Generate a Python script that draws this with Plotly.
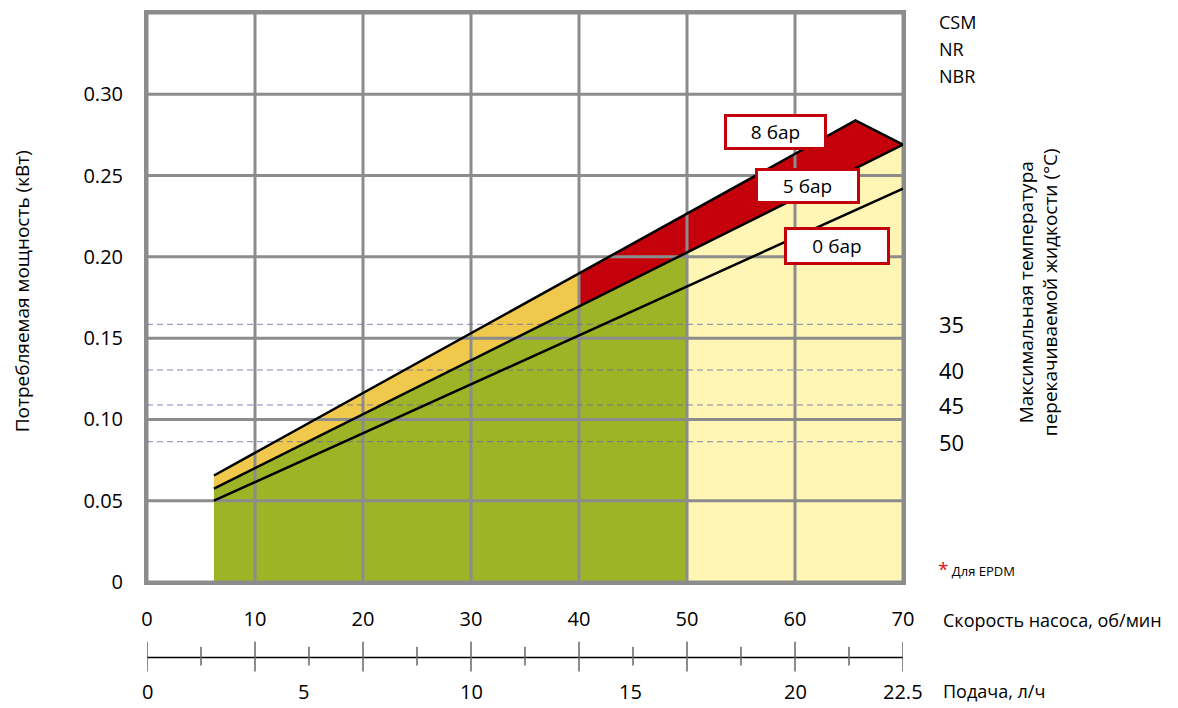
import numpy as np
import plotly.graph_objects as go

# ---------------- data ----------------
speed_ticks = [0, 10, 20, 30, 40, 50, 60, 70]          # pump speed, rpm
power_ticks = [0, 0.05, 0.10, 0.15, 0.20, 0.25, 0.30, 0.35]
power_ticklabels = ["0", "0.05", "0.10", "0.15", "0.20", "0.25", "0.30", ""]

flow_labels = ["0", "5", "10", "15", "20", "22.5"]       # l/h
flow_label_pos = [0, 14.5, 30, 44.8, 60, 70]             # rpm position of flow labels
flow_major_ticks = [0, 10, 20, 30, 40, 50, 60, 70]
flow_minor_ticks = [5, 15, 25, 35, 45, 55, 65]

# pressure curves (rpm -> kW)
x0bar = [6.2, 70]
y0bar = [0.050, 0.242]
x5bar = [6.2, 70]
y5bar = [0.0575, 0.269]
x8bar = [6.2, 65.6, 70]
y8bar = [0.0655, 0.284, 0.269]

# material limits
green_limit = 50       # rpm limit of green zone
orange_limit = 40      # rpm where 8 bar zone changes colour

# max temperature guide lines
temp_labels = ["35", "40", "45", "50"]
temp_power = [0.1585, 0.1304, 0.1089, 0.0863]

materials = ["CSM", "NR", "NBR"]

# ---------------- style ----------------
GREEN = "#9DB427"
ORANGE = "#F0C84B"
RED = "#C4000B"
LYELLOW = "#FFF5B4"
GRID = "#8C8C8C"
FONT = "Open Sans"

fig = go.Figure()

def p5(x):
    return np.interp(x, x5bar, y5bar)

def p8(x):
    return np.interp(x, x8bar, y8bar)

x_start = x5bar[0]
x_end = x5bar[-1]

# green zone
gx = [x_start, x_start, green_limit, green_limit]
gy = [0, p5(x_start), p5(green_limit), 0]
fig.add_trace(go.Scatter(x=gx, y=gy, fill="toself", fillcolor=GREEN, mode="none", hoverinfo="skip"))

# light yellow zone
lx = [green_limit, green_limit, x_end, x_end]
ly = [0, p5(green_limit), p5(x_end), 0]
fig.add_trace(go.Scatter(x=lx, y=ly, fill="toself", fillcolor=LYELLOW, mode="none", hoverinfo="skip"))

# orange band between 5 bar and 8 bar
ox = [x_start, orange_limit, orange_limit, x_start]
oy = [p8(x_start), p8(orange_limit), p5(orange_limit), p5(x_start)]
fig.add_trace(go.Scatter(x=ox, y=oy, fill="toself", fillcolor=ORANGE, mode="none", hoverinfo="skip"))

# red band
top_x = [orange_limit] + [v for v in x8bar if v > orange_limit]
top_y = [p8(v) for v in top_x]
rx = top_x + [x_end, orange_limit]
ry = top_y + [p5(x_end), p5(orange_limit)]
fig.add_trace(go.Scatter(x=rx, y=ry, fill="toself", fillcolor=RED, mode="none", hoverinfo="skip"))

# grid lines as traces (drawn above fills)
vx, vy = [], []
for t in speed_ticks:
    vx += [t, t, None]
    vy += [power_ticks[0], power_ticks[-1], None]
fig.add_trace(go.Scatter(x=vx, y=vy, mode="lines", line=dict(color=GRID, width=3), hoverinfo="skip"))
hx, hy = [], []
for t in power_ticks:
    hx += [speed_ticks[0], speed_ticks[-1], None]
    hy += [t, t, None]
fig.add_trace(go.Scatter(x=hx, y=hy, mode="lines", line=dict(color=GRID, width=3), hoverinfo="skip"))

# dashed temperature lines
for tp in temp_power:
    fig.add_trace(go.Scatter(x=[speed_ticks[0], speed_ticks[-1]], y=[tp, tp], mode="lines",
                             line=dict(color="rgba(100,105,170,0.8)", width=1, dash="6px,4px"),
                             hoverinfo="skip"))

# pressure curves
for xs, ys in [(x0bar, y0bar), (x5bar, y5bar), (x8bar, y8bar)]:
    fig.add_trace(go.Scatter(x=xs, y=ys, mode="lines", line=dict(color="black", width=2.5),
                             hoverinfo="skip"))

# secondary (flow) axis drawn with shapes
AX_Y = -0.1329
shapes = [dict(type="line", xref="x", yref="paper", x0=flow_major_ticks[0], x1=flow_major_ticks[-1],
               y0=AX_Y, y1=AX_Y, line=dict(color="black", width=1.5))]
for t in flow_major_ticks:
    shapes.append(dict(type="line", xref="x", yref="paper", x0=t, x1=t, y0=-0.1049, y1=-0.1573,
                       line=dict(color="#666666", width=1.5)))
for t in flow_minor_ticks:
    shapes.append(dict(type="line", xref="x", yref="paper", x0=t, x1=t, y0=-0.1136, y1=-0.1469,
                       line=dict(color="#666666", width=1.5)))

annotations = []
for lbl, pos in zip(flow_labels, flow_label_pos):
    annotations.append(dict(x=pos, y=-0.1923, xref="x", yref="paper", text=lbl, showarrow=False,
                            xanchor="center", yanchor="middle", font=dict(size=20, color="black")))

annotations.append(dict(x=1.050, y=-0.0664, xref="paper", yref="paper", text="Скорость насоса, об/мин",
                        showarrow=False, xanchor="left", yanchor="middle", font=dict(size=18)))
annotations.append(dict(x=1.050, y=-0.1923, xref="paper", yref="paper", text="Подача, л/ч",
                        showarrow=False, xanchor="left", yanchor="middle", font=dict(size=18)))

# material labels
for i, m in enumerate(materials):
    annotations.append(dict(x=1.045, y=(582 - (19 + 27 * i)) / 572, xref="paper", yref="paper", text=m,
                            showarrow=False, xanchor="left", yanchor="middle", font=dict(size=18)))

# temperature labels
for lbl, tp in zip(temp_labels, temp_power):
    annotations.append(dict(x=1.045, y=tp, xref="paper", yref="y", text=lbl, showarrow=False,
                            xanchor="left", yanchor="middle", font=dict(size=22)))

annotations.append(dict(x=1.043, y=0.0227, xref="paper", yref="paper",
                        text="<span style='color:#E0101A;font-size:19px'>*</span> Для EPDM",
                        showarrow=False, xanchor="left", yanchor="middle", font=dict(size=13)))

# right title
annotations.append(dict(x=1.179, y=0.51, xref="paper", yref="paper",
                        text="Максимальная температура<br>перекачиваемой жидкости (°C)",
                        showarrow=False, textangle=-90, xanchor="center", yanchor="middle",
                        font=dict(size=19)))
# left title
annotations.append(dict(x=-0.166, y=0.51, xref="paper", yref="paper",
                        text="Потребляемая мощность (кВт)",
                        showarrow=False, textangle=-90, xanchor="center", yanchor="middle",
                        font=dict(size=19)))

# pressure label boxes
box_labels = ["8 бар", "5 бар", "0 бар"]
box_x = [58.2, 61.2, 63.9]
box_y = [0.2765, 0.2436, 0.2069]
box_w = [97, 99, 100]
box_h = [30, 30, 32]
for t, bx, by, bw, bh in zip(box_labels, box_x, box_y, box_w, box_h):
    annotations.append(dict(x=bx, y=by, xref="x", yref="y", text=t, showarrow=False,
                            bgcolor="white", bordercolor=RED, borderwidth=3, borderpad=0,
                            width=bw, height=bh, font=dict(size=19), align="center"))

fig.update_layout(
    width=1170, height=700,
    margin=dict(l=139, r=275, t=2, b=126),
    paper_bgcolor="white", plot_bgcolor="white",
    showlegend=False,
    font=dict(family=FONT, color="black"),
    shapes=shapes,
    annotations=annotations,
    xaxis=dict(range=[speed_ticks[0], speed_ticks[-1]], tickvals=speed_ticks,
               ticktext=[str(v) for v in speed_ticks], showgrid=False, zeroline=False,
               ticks="outside", ticklen=17, tickcolor="rgba(0,0,0,0)",
               tickfont=dict(size=20), showline=True, mirror=True, linecolor=GRID, linewidth=3,
               fixedrange=True),
    yaxis=dict(range=[power_ticks[0], power_ticks[-1]], tickvals=power_ticks,
               ticktext=power_ticklabels, showgrid=False, zeroline=False,
               ticks="outside", ticklen=17, tickcolor="rgba(0,0,0,0)",
               tickfont=dict(size=20), showline=True, mirror=True, linecolor=GRID, linewidth=3,
               fixedrange=True),
)

fig.write_html("out.html")
